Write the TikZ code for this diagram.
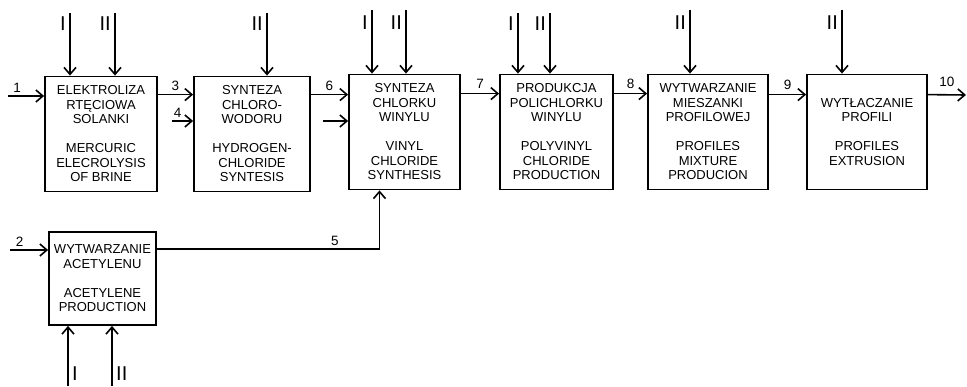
\documentclass[tikz,border=0pt]{standalone}
\usepackage{fontspec}
\setmainfont{Liberation Sans}
\usetikzlibrary{arrows.meta}

\begin{document}
\begin{tikzpicture}[
  x=1pt,
  y=-1pt,
  >={Straight Barb[length=7pt,width=12pt]},
  font=\fontsize{13}{14.5}\selectfont,
  process/.style={
    draw,
    line width=1.8pt,
    minimum height=115pt,
    inner sep=0pt,
    align=center
  },
  flow/.style={->, line width=1.6pt},
  num/.style={font=\fontsize{13.5}{14}\selectfont, inner sep=1pt},
  util/.style={font=\fontsize{20}{20}\selectfont, inner sep=0pt}
]
\useasboundingbox (0,0) rectangle (967,386);

% ---------------------------------------------------------------------------
% Process blocks
% ---------------------------------------------------------------------------
\node[process, minimum width=112pt] (elektr) at (101,134)
  {ELEKTROLIZA\\RTĘCIOWA\\SOLANKI\\[14.5pt]MERCURIC\\ELECROLYSIS\\OF BRINE};
\node[process, minimum width=116pt] (hcl) at (252,134)
  {SYNTEZA\\CHLORO-\\WODORU\\[14.5pt]HYDROGEN-\\CHLORIDE\\SYNTESIS};
\node[process, minimum width=111pt] (vc) at (404.5,132)
  {SYNTEZA\\CHLORKU\\WINYLU\\[14.5pt]VINYL\\CHLORIDE\\SYNTHESIS};
\node[process, minimum width=113pt] (pvc) at (556.5,132)
  {PRODUKCJA\\POLICHLORKU\\WINYLU\\[14.5pt]POLYVINYL\\CHLORIDE\\PRODUCTION};
\node[process, minimum width=120pt] (mix) at (708,132)
  {WYTWARZANIE\\MIESZANKI\\PROFILOWEJ\\[14.5pt]PROFILES\\MIXTURE\\PRODUCION};
\node[process, minimum width=120pt] (extr) at (867,132)
  {WYTŁACZANIE\\PROFILI\\[14.5pt]PROFILES\\EXTRUSION};
\node[process, minimum width=107pt, minimum height=93pt] (acet) at (102.5,278.5)
  {WYTWARZANIE\\ACETYLENU\\[14.5pt]ACETYLENE\\PRODUCTION};

% ---------------------------------------------------------------------------
% Main material flow
% ---------------------------------------------------------------------------
\coordinate (in1) at (8,96);
\coordinate (in4) at (172,121);
\coordinate (invc) at (323,121);
\coordinate (out10) at (966,95);
\coordinate (in2) at (10,250);

\draw[flow] (in1) -- node[num, pos=0.25, above=2pt] (n1) {1} (in1 -| elektr.west);
\draw[flow] ([yshift=-19pt]elektr.north east) -- node[num, above=2pt] (n3) {3}
  ([yshift=-19pt]hcl.north west);
\draw[flow] (in4) -- node[num, pos=0.27, above=2pt] (n4) {4} (in4 -| hcl.west);
\draw[flow] ([yshift=-19pt]hcl.north east) -- node[num, above=2pt] (n6) {6}
  ([yshift=-19pt]hcl.north east -| vc.west);
\draw[flow] (invc) -- (invc -| vc.west);
\draw[flow] ([yshift=-20pt]vc.north east) -- node[num, above=3pt] (n7) {7}
  ([yshift=-20pt]pvc.north west);
\draw[flow] ([yshift=-20pt]pvc.north east) -- node[num, above=3pt] (n8) {8}
  ([yshift=-20pt]mix.north west);
\draw[flow] ([yshift=-21pt]mix.north east) -- node[num, above=3pt] (n9) {9}
  ([yshift=-21pt]extr.north west);
\draw[flow] ([yshift=-21pt]extr.north east) -- node[num, above=6pt] (n10) {10} (out10);

% acetylene branch
\draw[flow] (in2) -- node[num, pos=0.25, above=2pt] (n2) {2} (in2 -| acet.west);
\draw[flow] ([yshift=-18pt]acet.north east) -| node[num, pos=0.40, above=2pt] (n5) {5}
  ([xshift=-25pt]vc.south);

% ---------------------------------------------------------------------------
% Utilities I and II
% ---------------------------------------------------------------------------
\coordinate (u1) at (70,13);
\coordinate (u2) at (115,13);
\coordinate (u3) at (267,13);
\coordinate (u4) at (372,10);
\coordinate (u5) at (406,10);
\coordinate (u6) at (518,13);
\coordinate (u7) at (550,13);
\coordinate (u8) at (690,10);
\coordinate (u9) at (842,10);
\coordinate (d1) at (68,386);
\coordinate (d2) at (112,386);

\draw[flow] (u1) -- (u1 |- elektr.north);
\draw[flow] (u2) -- (u2 |- elektr.north);
\draw[flow] (u3) -- (u3 |- hcl.north);
\draw[flow] (u4) -- (u4 |- vc.north);
\draw[flow] (u5) -- (u5 |- vc.north);
\draw[flow] (u6) -- (u6 |- pvc.north);
\draw[flow] (u7) -- (u7 |- pvc.north);
\draw[flow] (u8) -- (u8 |- mix.north);
\draw[flow] (u9) -- (u9 |- extr.north);
\draw[flow] (d1) -- (d1 |- acet.south);
\draw[flow] (d2) -- (d2 |- acet.south);

\node[util, anchor=east] (l1) at ([xshift=-4pt,yshift=-11pt]u1) {I};
\node[util, anchor=east] (l2) at ([xshift=-4pt,yshift=-11pt]u2) {II};
\node[util, anchor=east] (l3) at ([xshift=-4pt,yshift=-11pt]u3) {II};
\node[util, anchor=east] (l4) at ([xshift=-4pt,yshift=-13pt]u4) {I};
\node[util, anchor=east] (l5) at ([xshift=-4pt,yshift=-13pt]u5) {II};
\node[util, anchor=east] (l6) at ([xshift=-4pt,yshift=-11pt]u6) {I};
\node[util, anchor=east] (l7) at ([xshift=-4pt,yshift=-11pt]u7) {II};
\node[util, anchor=east] (l8) at ([xshift=-4pt,yshift=-13pt]u8) {II};
\node[util, anchor=east] (l9) at ([xshift=-4pt,yshift=-13pt]u9) {II};
\node[util, anchor=west] (l10) at ([xshift=4pt,yshift=12pt]d1) {I};
\node[util, anchor=west] (l11) at ([xshift=4pt,yshift=12pt]d2) {II};

\end{tikzpicture}
\end{document}
